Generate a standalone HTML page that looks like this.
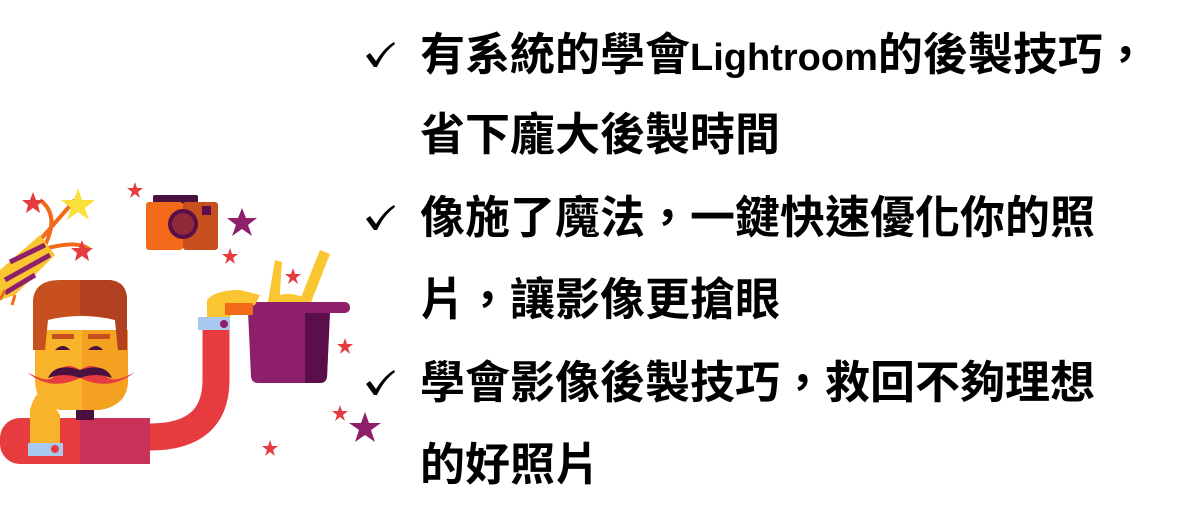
<!DOCTYPE html>
<html><head><meta charset="utf-8"><style>
html,body{margin:0;padding:0;background:#fff;width:1190px;height:521px;overflow:hidden;position:relative}
.l{position:absolute;left:420px;font-family:"Liberation Sans","Noto Sans CJK TC",sans-serif;font-weight:bold;font-size:45px;line-height:50px;color:#000;white-space:nowrap}
.l span{font-size:38px}
.c{position:absolute;left:364px;width:32px;height:28px}
svg{position:absolute;left:0;top:0}
</style></head><body>
<svg width="400" height="521" viewBox="0 0 400 521">
<g>
<path d="M40 240 L75 200 M45 245 Q60 215 40 200 M48 248 Q80 240 90 250" stroke="#f26a1a" stroke-width="4" fill="none"/>
<polygon points="0,270 40,235 55,255 15,295 0,300" fill="#f9c531"/>
<path d="M10 262 L45 245 M5 280 L50 255 M5 293 L35 275" stroke="#8e1f6a" stroke-width="5"/>
<path d="M5 290 L0 300 M15 295 L12 305" stroke="#f26a1a" stroke-width="3"/>
<polygon points="78,188 82,200 95,200 85,208 89,220 78,212 67,220 71,208 61,200 74,200" fill="#f9e03a"/>
<polygon points="33,192 36,200 44,200 38,205 40,213 33,208 26,213 28,205 22,200 30,200" fill="#e63b3f"/>
<polygon points="82,240 85,248 93,248 87,253 89,261 82,256 75,261 77,253 71,248 79,248" fill="#e63b3f"/>
</g>
<g fill="#e63b3f">
<polygon points="135,182 137,188 143,188 138,192 140,198 135,194 130,198 132,192 127,188 133,188"/>
<polygon points="230,248 232,254 238,254 233,258 235,264 230,260 225,264 227,258 222,254 228,254"/>
<polygon points="293,268 295,274 301,274 296,278 298,284 293,280 288,284 290,278 285,274 291,274"/>
<polygon points="345,338 347,344 353,344 348,348 350,354 345,350 340,354 342,348 337,344 343,344"/>
<polygon points="340,405 342,411 348,411 343,415 345,421 340,417 335,421 337,415 332,411 338,411"/>
<polygon points="270,440 272,446 278,446 273,450 275,456 270,452 265,456 267,450 262,446 268,446"/>
</g>
<g fill="#8e1f6a">
<polygon points="242,208 246,218 257,218 248,225 252,236 242,229 232,236 236,225 227,218 238,218"/>
<polygon points="365,412 369,423 381,423 371,430 375,442 365,435 355,442 359,430 349,423 361,423"/>
</g>
<rect x="153" y="195" width="45" height="9" rx="2" fill="#4a1040"/>
<rect x="146" y="202" width="37" height="48" rx="3" fill="#f26a1a"/>
<rect x="183" y="202" width="35" height="48" rx="3" fill="#c8501e"/>
<circle cx="183" cy="224" r="15" fill="#5a0f4a"/>
<circle cx="183" cy="224" r="11" fill="#8e2a3a"/>
<rect x="202" y="206" width="9" height="9" fill="#5a0f4a"/>
<rect x="0" y="418" width="80" height="46" rx="20" fill="#e63b3f"/>
<rect x="20" y="418" width="60" height="46" fill="#e63b3f"/>
<rect x="80" y="418" width="70" height="46" fill="#c8325a"/>
<path d="M150 437 Q216 437 216 380 L216 327" stroke="#e63b3f" stroke-width="27" fill="none"/>
<rect x="198" y="317" width="32" height="13" fill="#a8c8f0"/>
<circle cx="224" cy="324" r="4" fill="#8e1f6a"/>
<path d="M265 320 L275 260 L282 262 L278 320 Z" fill="#f9c531"/>
<path d="M300 300 L320 250 L330 254 L310 305 Z" fill="#f9c531"/>
<ellipse cx="288" cy="302" rx="18" ry="8" fill="#f9c531"/>
<path d="M248 311 L330 311 L327 377 Q326 383 320 383 L258 383 Q252 383 251 377 Z" fill="#8e1f6a"/>
<path d="M305 311 L330 311 L327 377 Q326 383 320 383 L305 383 Z" fill="#5a0f4a"/>
<rect x="247" y="302" width="103" height="11" rx="5" fill="#8e1f6a"/>
<path d="M207 317 L207 300 Q215 290 240 290 L260 295 L255 305 L235 310 L230 317 Z" fill="#f9c531"/>
<rect x="225" y="303" width="28" height="12" fill="#f26a1a"/>
<rect x="76" y="395" width="18" height="25" fill="#4a1040"/>
<path d="M35 330 L128 330 L128 380 Q128 405 100 410 L60 410 Q35 405 35 380 Z" fill="#f9b32a"/>
<path d="M82 330 L128 330 L128 380 Q128 405 100 410 L82 410 Z" fill="#f4a020"/>
<path d="M33 350 L33 300 Q35 280 60 280 L110 280 Q127 282 127 300 L127 350 L118 350 L115 320 Q80 312 48 320 L45 350 Z" fill="#c8501e"/>
<path d="M80 280 L110 280 Q127 282 127 300 L127 350 L118 350 L115 320 Q100 315 80 315 Z" fill="#b04020"/>
<rect x="52" y="334" width="22" height="5" fill="#c8501e"/>
<rect x="88" y="334" width="22" height="5" fill="#c8501e"/>
<path d="M55 350 Q63 342 70 350 Z M88 350 Q96 342 103 350 Z" fill="#4a1040"/>
<path d="M27 372 Q50 385 55 375 Q65 360 80 370 Q95 360 105 375 Q112 385 135 372 Q110 392 80 378 Q50 392 27 372 Z" fill="#e63b3f"/>
<path d="M48 378 Q55 362 80 370 Q105 362 112 378 Q95 372 80 378 Q65 372 48 378 Z" fill="#4a1040"/>
<path d="M30 445 L30 410 Q35 390 45 392 L60 415 L60 445 Z" fill="#f9b32a"/>
<rect x="28" y="443" width="35" height="13" fill="#a8c8f0"/>
<circle cx="55" cy="449" r="4" fill="#e63b3f"/>
</svg>
<svg class="c" style="top:40px" viewBox="0 0 32 28"><path d="M2 16 L6 13 L12 21 Q20 8 30 2 L31 4 Q20 12 13 27 L10 27 Z" fill="#000"/></svg>
<svg class="c" style="top:203px" viewBox="0 0 32 28"><path d="M2 16 L6 13 L12 21 Q20 8 30 2 L31 4 Q20 12 13 27 L10 27 Z" fill="#000"/></svg>
<svg class="c" style="top:368px" viewBox="0 0 32 28"><path d="M2 16 L6 13 L12 21 Q20 8 30 2 L31 4 Q20 12 13 27 L10 27 Z" fill="#000"/></svg>
<div class="l" style="top:30px">有系統的學會<span>Lightroom</span>的後製技巧，</div>
<div class="l" style="top:110px">省下龐大後製時間</div>
<div class="l" style="top:193px">像施了魔法，一鍵快速優化你的照</div>
<div class="l" style="top:275px">片，讓影像更搶眼</div>
<div class="l" style="top:358px">學會影像後製技巧，救回不夠理想</div>
<div class="l" style="top:440px">的好照片</div>
</body></html>
